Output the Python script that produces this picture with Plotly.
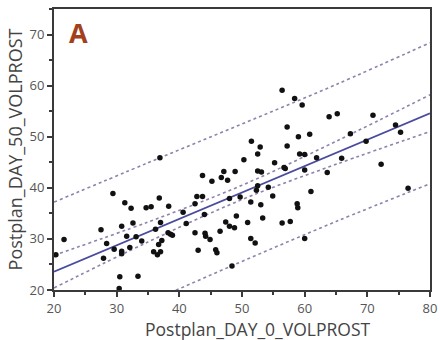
import plotly.graph_objects as go

# Data (Postplan volumes)
day0 = [36.9, 21.6, 20.3, 29.4, 31.3, 32.3, 34.7, 35.5, 36.8, 38.3, 40.6, 27.5, 30.8, 32.6,
        28.4, 29.6, 30.8, 30.8, 31.6, 32.1, 27.9, 34.0, 33.1, 36.2, 37.0, 35.9, 36.5, 37.0,
        36.7, 37.2, 38.2, 38.6, 38.9, 30.5, 33.4, 30.4,
        50.3, 52.5, 55.2, 56.7, 56.9, 59.2, 60.0, 60.0, 43.7, 45.2, 47.1, 46.7, 47.7, 48.9,
        52.5, 53.1, 42.8, 43.7, 42.5, 41.1, 44.0, 48.0, 49.7, 51.4, 52.5, 52.3, 54.2, 54.9,
        53.0, 58.8, 58.9, 49.1, 47.4, 48.0, 48.8, 50.9, 53.3, 56.4, 57.7, 42.5, 44.1, 44.2,
        44.9, 46.5, 43.0, 45.8, 46.0, 51.4, 52.1, 48.4, 60.0,
        61.9, 63.6, 65.9, 72.2, 61.0, 76.5, 58.4, 59.6, 63.9, 65.2, 70.9, 59.0, 60.8, 67.3,
        75.3, 69.8, 74.5, 56.4, 51.5, 52.9, 57.2, 57.2]
day50 = [45.9, 29.9, 26.9, 38.9, 37.1, 36.0, 36.1, 36.3, 38.0, 36.4, 35.2, 31.8, 32.5, 33.1,
         29.1, 28.0, 27.6, 27.1, 30.5, 28.3, 26.2, 29.6, 30.4, 31.9, 33.2, 27.5, 26.9, 27.5,
         28.9, 29.7, 31.2, 30.9, 30.7, 22.6, 22.7, 20.3,
         45.5, 46.6, 44.9, 44.0, 43.8, 46.6, 46.5, 43.5, 42.4, 41.3, 43.2, 42.0, 41.5, 43.2,
         43.3, 43.1, 38.3, 38.3, 36.9, 33.0, 34.8, 37.9, 38.2, 37.2, 40.4, 39.5, 40.1, 38.4,
         36.7, 36.9, 36.1, 34.5, 33.3, 32.5, 32.2, 33.2, 34.1, 33.1, 33.4, 31.2, 31.1, 30.5,
         29.9, 31.5, 27.8, 27.9, 27.3, 30.1, 29.2, 24.7, 30.1,
         45.9, 43.0, 45.8, 44.6, 39.3, 39.9, 57.5, 56.2, 53.9, 54.5, 54.2, 50.0, 50.5, 50.6,
         50.9, 49.1, 52.3, 59.1, 49.1, 48.0, 51.9, 48.2]

# Fitted line and bands
band_x = [20, 35, 50, 65, 80]
fit_y = [23.6, 31.35, 39.1, 46.85, 54.6]
ci_upper = [26.8, 33.3, 40.5, 49.1, 58.2]
ci_lower = [20.4, 29.4, 37.7, 44.6, 51.0]
pi_upper = [37.2, 44.9, 52.5, 60.2, 68.4]
pi_lower = [10.0, 17.6, 25.6, 33.4, 40.8]

x_ticks = [20, 30, 40, 50, 60, 70, 80]
y_ticks = [20, 30, 40, 50, 60, 70]

dot_color = "#8f82ad"
fig = go.Figure()
for band in (pi_upper, pi_lower, ci_upper, ci_lower):
    fig.add_trace(go.Scatter(x=band_x, y=band, mode="lines",
                             line=dict(color=dot_color, width=1.6, dash="dot", shape="spline"),
                             hoverinfo="skip", showlegend=False))
fig.add_trace(go.Scatter(x=band_x, y=fit_y, mode="lines",
                         line=dict(color="#4a4a9e", width=1.8), showlegend=False))
fig.add_trace(go.Scatter(x=day0, y=day50, mode="markers",
                         marker=dict(color="#111111", size=5.5), showlegend=False))

axis_common = dict(showline=True, linecolor="#3a3a3a", linewidth=2, mirror=True,
                   ticks="outside", ticklen=5, tickwidth=2, tickcolor="#3a3a3a",
                   showgrid=False, zeroline=False, automargin=False,
                   tickfont=dict(family="Open Sans", size=13, color="#555555"),
                   minor=dict(dtick=5, ticks="outside", ticklen=3, tickwidth=1.5,
                              tickcolor="#3a3a3a", showgrid=False))
fig.update_xaxes(range=[20, 80], tickvals=x_ticks, ticktext=[str(v) for v in x_ticks],
                 **axis_common)
fig.update_yaxes(range=[20, 75], tickvals=y_ticks, ticktext=[str(v) for v in y_ticks],
                 title=dict(text="Postplan_DAY_50_VOLPROST", standoff=2,
                            font=dict(family="Open Sans", size=18, color="#444444")),
                 **axis_common)
fig.add_annotation(text="Postplan_DAY_0_VOLPROST", xref="paper", yref="paper",
                   x=0.54, y=-0.14, xanchor="center", yanchor="middle", showarrow=False,
                   borderpad=0,
                   font=dict(family="Open Sans", size=17.5, color="#444444"))
fig.add_annotation(text="<b>A</b>", xref="paper", yref="paper", x=0.035, y=0.99,
                   xanchor="left", yanchor="top", showarrow=False,
                   font=dict(family="Open Sans", size=27, color="#a3401c"))
fig.update_layout(width=440, height=340, margin=dict(l=54, r=10, t=9, b=50),
                  plot_bgcolor="white", paper_bgcolor="white")
fig.write_html("out.html")
